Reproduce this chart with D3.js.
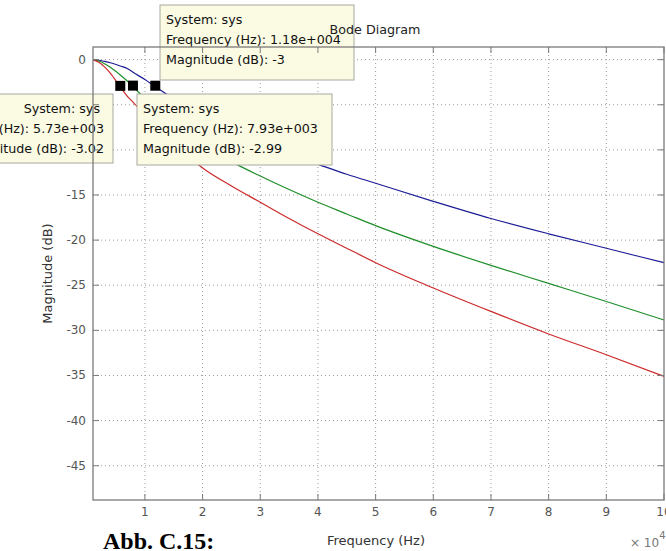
<!DOCTYPE html>
<html>
<head>
<meta charset="utf-8">
<script src="https://cdn.jsdelivr.net/npm/d3@7"></script>
<style>
  body { margin: 0; background: #fff; }
  svg { display: block; }
</style>
</head>
<body>
<svg id="chart" width="666" height="551"></svg>
<script>
// frequency in units of 1e4 Hz
const freq = [0.1, 0.2, 0.3, 0.4, 0.573, 0.7, 0.793, 1.0, 1.18, 1.5, 2.0, 2.5, 3.0, 3.5, 4.0, 4.5, 5.0, 6.0, 7.0, 8.0, 9.0, 10.0];
const magBlue = [0, -0.07, -0.2, -0.35, -0.7, -1.0, -1.4, -2.2, -3.0, -4.3, -6.0, -7.6, -9.2, -10.5, -11.6, -12.7, -13.7, -15.7, -17.6, -19.3, -20.9, -22.5];
const magGreen = [0, -0.15, -0.45, -0.85, -1.7, -2.4, -2.99, -4.3, -5.3, -7.0, -9.4, -11.3, -12.9, -14.4, -15.8, -17.1, -18.4, -20.7, -22.8, -24.8, -26.8, -28.85];
const magRed = [0, -0.3, -0.8, -1.5, -3.02, -4.1, -4.7, -6.1, -7.3, -9.3, -12.0, -14.0, -15.8, -17.6, -19.3, -20.9, -22.5, -25.3, -27.9, -30.4, -32.7, -35.1];

const xTicks = [1, 2, 3, 4, 5, 6, 7, 8, 9, 10];
const yTicks = [0, -5, -10, -15, -20, -25, -30, -35, -40, -45];

// data tips: red, green, blue
const tipFreq = [0.573, 0.793, 1.18];
const tipMag = [-3.02, -2.99, -3];
const tipFreqText = ['5.73e+003', '7.93e+003', '1.18e+004'];
const tipMagText = ['-3.02', '-2.99', '-3'];

const svg = d3.select('#chart');
const pLeft = 93, pRight = 664, pTop = 47, pBottom = 500;

const x = d3.scaleLinear().domain([0.1, 10]).range([pLeft, pRight]);
const y = d3.scaleLinear().domain([1.4, -48.8]).range([pTop, pBottom]);

const font = '"DejaVu Sans", Verdana, sans-serif';
const axisColor = '#7a7a7a';

// grid
const grid = svg.append('g');
grid.selectAll('line.gx').data(xTicks.filter(d => d < 10)).enter().append('line')
    .attr('x1', d => x(d)).attr('x2', d => x(d))
    .attr('y1', pTop).attr('y2', pBottom)
    .attr('stroke', '#9a9a9a').attr('stroke-dasharray', '1,3');
grid.selectAll('line.gy').data(yTicks).enter().append('line')
    .attr('y1', d => y(d)).attr('y2', d => y(d))
    .attr('x1', pLeft).attr('x2', pRight)
    .attr('stroke', '#9a9a9a').attr('stroke-dasharray', '1,3');

// curves
const line = (mags) => d3.line()
    .x((d, i) => x(freq[i]))
    .y(d => y(d))
    .curve(d3.curveMonotoneX)(mags);

const series = [
    { mags: magBlue, color: '#1c1c96' },
    { mags: magGreen, color: '#1f8f2a' },
    { mags: magRed, color: '#cc2a2a' }
];
svg.append('g').selectAll('path').data(series).enter().append('path')
    .attr('d', d => line(d.mags))
    .attr('fill', 'none')
    .attr('stroke', d => d.color)
    .attr('stroke-width', 1.2);

// markers
svg.append('g').selectAll('rect').data(tipFreq).enter().append('rect')
    .attr('x', (d, i) => x(d) - 5)
    .attr('y', (d, i) => y(tipMag[i]) - 6)
    .attr('width', 10).attr('height', 10)
    .attr('fill', '#000');

// y labels (-5 and -10 sit under the left data tip)
svg.append('g').selectAll('text').data(yTicks.filter(t => t > -5 || t < -10)).enter().append('text')
    .attr('x', pLeft - 7).attr('y', d => y(d) + 4)
    .attr('text-anchor', 'end')
    .attr('font-family', font).attr('font-size', 12)
    .attr('fill', '#555').text(d => d);

// data tip boxes
const boxes = [
    { x: -10, y: 94, w: 123, h: 69, anchor: 'end', tx: 104, i: 0 },
    { x: 137, y: 94, w: 195, h: 71, anchor: 'start', tx: 143, i: 1 },
    { x: 160, y: 5, w: 194, h: 75, anchor: 'start', tx: 166, i: 2 }
];
const tips = svg.append('g');
boxes.forEach(b => {
    const g = tips.append('g');
    g.append('rect')
        .attr('x', b.x).attr('y', b.y).attr('width', b.w).attr('height', b.h)
        .attr('fill', '#fbfbe3').attr('stroke', '#a8a8a0');
    const lines = ['System: sys',
        `Frequency (Hz): ${tipFreqText[b.i]}`,
        `Magnitude (dB): ${tipMagText[b.i]}`];
    g.selectAll('text').data(lines).enter().append('text')
        .attr('x', (d, k) => (b.anchor === 'end' && k === 0) ? b.tx - 4 : b.tx)
        .attr('y', (d, k) => b.y + 19 + k * 20)
        .attr('text-anchor', b.anchor)
        .attr('font-family', font).attr('font-size', 12.7)
        .attr('fill', '#111')
        .text(d => d);
});

// axes box and ticks
const ax = svg.append('g');
ax.append('rect')
    .attr('x', pLeft).attr('y', pTop).attr('width', pRight - pLeft).attr('height', pBottom - pTop)
    .attr('fill', 'none').attr('stroke', axisColor).attr('stroke-width', 1.3);
xTicks.forEach(t => {
    ax.append('line').attr('x1', x(t)).attr('x2', x(t)).attr('y1', pBottom).attr('y2', pBottom - 6)
        .attr('stroke', axisColor);
    ax.append('line').attr('x1', x(t)).attr('x2', x(t)).attr('y1', pTop).attr('y2', pTop + 6)
        .attr('stroke', axisColor);
    ax.append('text').attr('x', x(t)).attr('y', pBottom + 16)
        .attr('text-anchor', 'middle')
        .attr('font-family', font).attr('font-size', 12)
        .attr('fill', '#555').text(t);
});
yTicks.forEach(t => {
    ax.append('line').attr('x1', pLeft).attr('x2', pLeft + 6).attr('y1', y(t)).attr('y2', y(t))
        .attr('stroke', axisColor);
    ax.append('line').attr('x1', pRight).attr('x2', pRight - 6).attr('y1', y(t)).attr('y2', y(t))
        .attr('stroke', axisColor);
});

// titles
svg.append('text').attr('x', 375).attr('y', 34)
    .attr('text-anchor', 'middle')
    .attr('font-family', font).attr('font-size', 12.7)
    .attr('fill', '#222').text('Bode Diagram');

svg.append('text').attr('x', 376).attr('y', 545)
    .attr('text-anchor', 'middle')
    .attr('font-family', font).attr('font-size', 13)
    .attr('fill', '#333').text('Frequency  (Hz)');

svg.append('text')
    .attr('transform', `translate(47, ${(pTop + pBottom) / 2}) rotate(-90)`)
    .attr('text-anchor', 'middle')
    .attr('font-family', font).attr('font-size', 13)
    .attr('fill', '#333').attr('dy', '0.35em').text('Magnitude (dB)');

const mult = svg.append('text').attr('x', 630).attr('y', 547)
    .attr('font-family', font).attr('font-size', 12)
    .attr('fill', '#777');
mult.append('tspan').text('\u00d7 10');
mult.append('tspan').attr('dy', -8).attr('font-size', 10).text('4');

svg.append('text').attr('x', 103).attr('y', 549)
    .attr('font-family', '"Liberation Serif", "Times New Roman", serif')
    .attr('font-weight', 'bold').attr('font-size', 24)
    .attr('fill', '#000').text('Abb. C.15:');
</script>
</body>
</html>
